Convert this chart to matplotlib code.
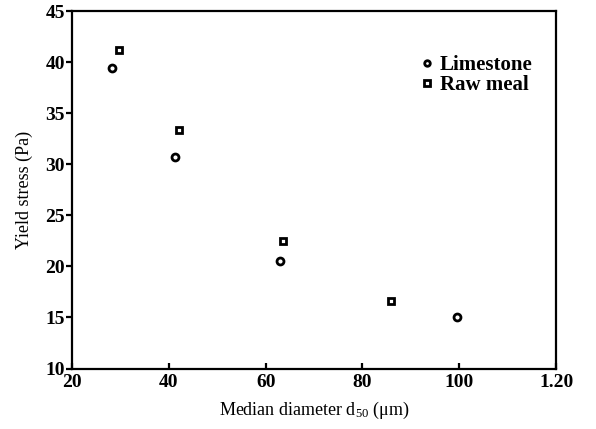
import matplotlib
matplotlib.use("Agg")
import matplotlib.pyplot as plt

plt.rcParams['font.family'] = ['Liberation Serif', 'DejaVu Serif']
plt.rcParams['mathtext.default'] = 'regular'

# median diameter d50 (um) and yield stress (Pa)
limestone_d50 = [28.2, 41.2, 63.0, 99.6]
limestone_stress = [39.4, 30.7, 20.5, 15.0]
rawmeal_d50 = [29.7, 42.1, 63.5, 85.8]
rawmeal_stress = [41.2, 33.4, 22.5, 16.6]

xticks = [20, 40, 60, 80, 100, 120]
xticklabels = ['20', '40', '60', '80', '100', '1.20']
yticks = [10, 15, 20, 25, 30, 35, 40, 45]

fig = plt.figure(figsize=(5.96, 4.29), dpi=100)
ax = fig.add_axes([0.121, 0.141, 0.812, 0.833])

ax.plot(limestone_d50, limestone_stress, linestyle='none', marker='o',
        markersize=5, markerfacecolor='white', markeredgecolor='black',
        markeredgewidth=2.0, label='Limestone')
ax.plot(rawmeal_d50, rawmeal_stress, linestyle='none', marker='s',
        markersize=5, markerfacecolor='white', markeredgecolor='black',
        markeredgewidth=2.0, label='Raw meal')

ax.set_xlim(20, 120)
ax.set_ylim(10, 45)
ax.set_xticks(xticks)
ax.set_xticklabels(xticklabels)
ax.set_yticks(yticks)

for s in ax.spines.values():
    s.set_linewidth(1.6)

ax.tick_params(axis='x', direction='in', length=4, width=1.6, pad=4,
               labelsize=14)
ax.tick_params(axis='y', direction='out', length=4, width=1.6, pad=1,
               labelsize=14)
for lbl in ax.get_xticklabels() + ax.get_yticklabels():
    lbl.set_fontweight('bold')

ax.set_xlabel('Median diameter d$_{50}$ (μm)', fontsize=13, labelpad=6)
ax.set_ylabel('Yield stress (Pa)', fontsize=13, labelpad=9)

leg = ax.legend(loc='upper right', bbox_to_anchor=(0.99, 0.93), frameon=False,
                handlelength=0.5, handletextpad=0.35, labelspacing=0.0,
                markerscale=0.8, prop={'size': 15, 'weight': 'bold'})

fig.savefig('out.png', dpi=100)
